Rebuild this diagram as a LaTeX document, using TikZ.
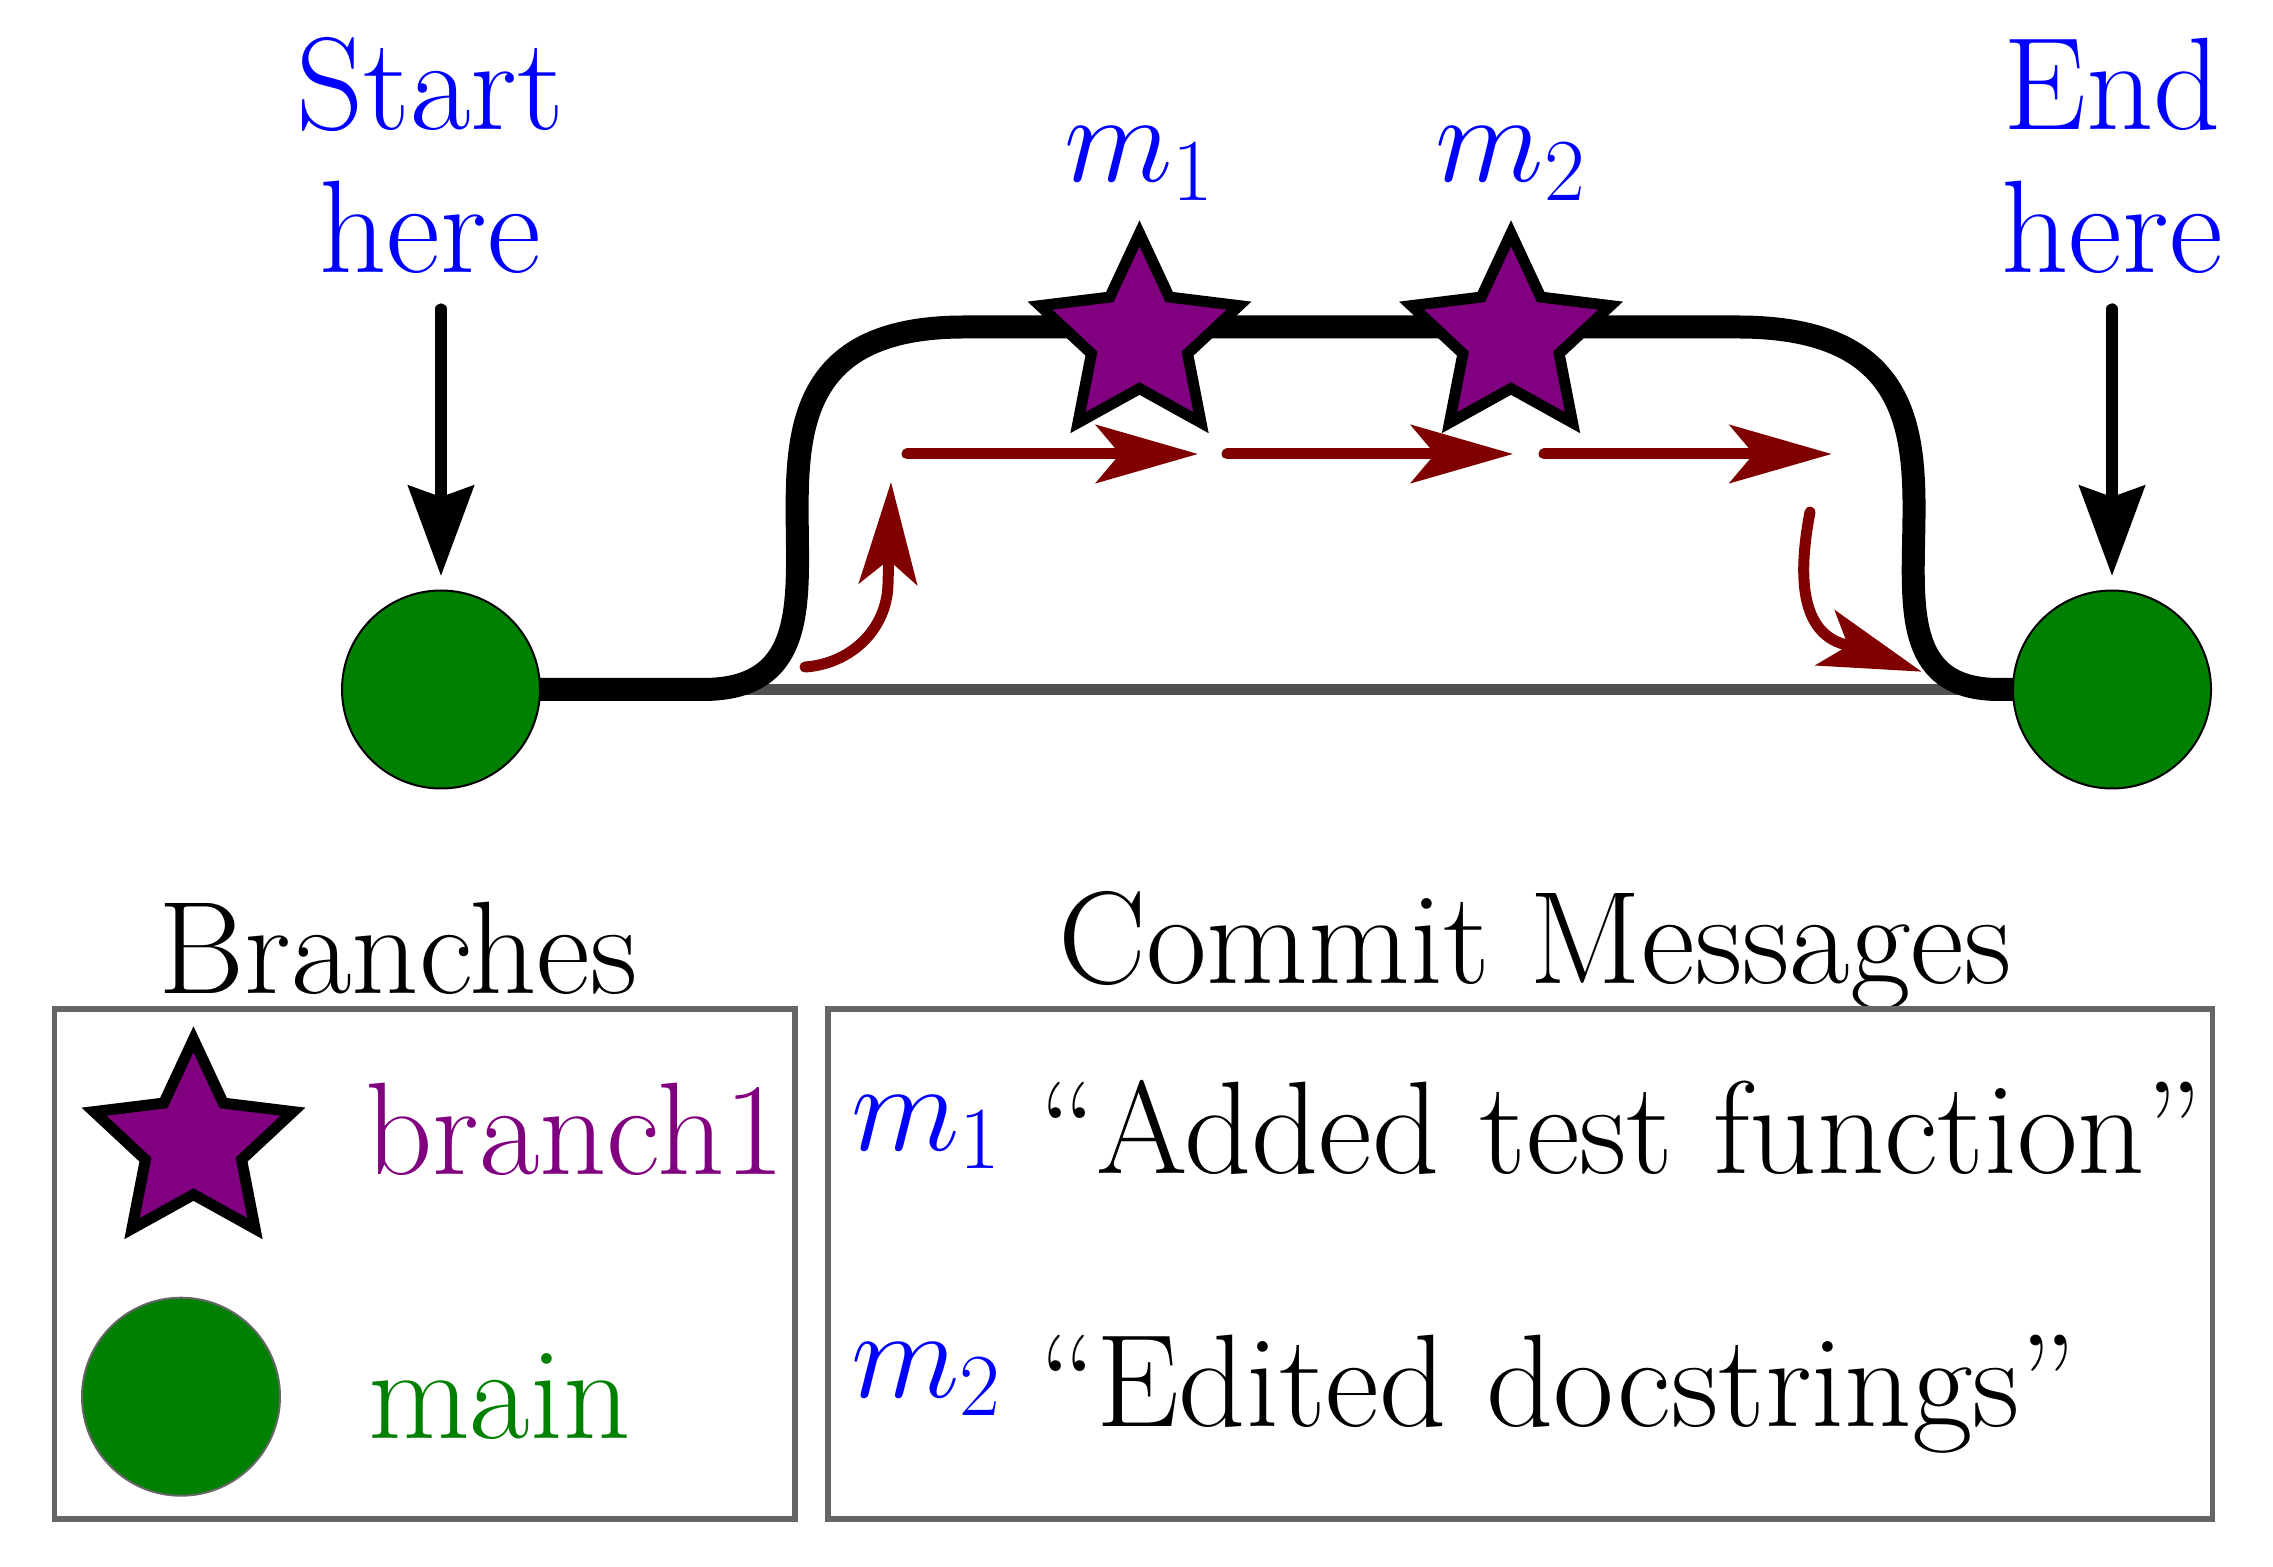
\RequirePackage{fix-cm}
\documentclass[tikz,border=0pt]{standalone}
\usetikzlibrary{arrows.meta,shapes.geometric,backgrounds}
\definecolor{myblue}{RGB}{0,0,255}
\definecolor{mypurple}{RGB}{128,0,128}
\definecolor{mygreen}{RGB}{0,128,0}
\definecolor{mymaroon}{RGB}{128,0,0}
\definecolor{mygrey}{RGB}{80,80,80}
\definecolor{boxgrey}{RGB}{102,102,102}
\begin{document}
\begin{tikzpicture}[x=0.1mm,y=-0.1mm,
  every node/.style={font=\fontsize{37.5}{40.83}\selectfont, inner sep=0pt, outer sep=0pt},
  mathlbl/.style={text=myblue, font=\fontsize{36}{40.83}\selectfont},
  commit/.style={circle, draw=black, line width=0.2mm, fill=mygreen, minimum size=19.8mm},
  branchstar/.style={star, star points=5, star point ratio=2.07, draw=black, line width=1.1mm, fill=mypurple, minimum size=20.94mm, miter limit=10},
  trunk/.style={draw=black, line width=2.3mm},
  mainline/.style={draw=mygrey, line width=1.15mm},
  walk/.style={draw=mymaroon, line width=1.1mm, line cap=round, -{Stealth[length=10.2mm,width=5.8mm,inset=2.4mm]}},
  pointer/.style={draw=black, line width=1.13mm, line cap=round, -{Stealth[length=9mm,width=6.5mm,inset=1.1mm]}},
  legbox/.style={draw=boxgrey, line width=0.57mm}
]
\useasboundingbox (0,0) rectangle (2273,1567);

% commits
\node[commit] (c1) at (441,689.5) {};
\node[commit] (c2) at (2112,689.5) {};
\node[branchstar] (s1) at (1139.5,338) {};
\node[branchstar] (s2) at (1511,338) {};

% labels
\node[text=myblue, align=center, anchor=base] (start) at (430,273) {Start\\here};
\node[text=myblue, align=center, anchor=base] (end) at (2112,273) {End\\here};
\node[mathlbl, anchor=base] (l1) at (1139.5,181.5) {$m_1$};
\node[mathlbl, anchor=base] (l2) at (1511,181.5) {$m_2$};

% branch lines
\begin{scope}[on background layer]
\draw[mainline] (c1) -- (c2);
\draw[trunk] (c1.center) -- (703,689.5)
  .. controls (915.5,689.5) and (654.5,327) .. (964,327) -- (1738,327)
  .. controls (2059.7,327) and (1798.7,689.5) .. (1999,689.5) -- (c2.center);
\end{scope}

% pointer arrows
\coordinate (sa) at (441,309);
\coordinate (ea) at (2112,309);
\draw[pointer, shorten >=1.45mm] (sa) -- (c1);
\draw[pointer, shorten >=1.45mm] (ea) -- (c2);

% walk arrows
\coordinate (b1s) at (805,667);
\coordinate (b1e) at (891,482);
\coordinate (a1s) at (907,454);
\coordinate (a1e) at (1198,454);
\coordinate (a2s) at (1227,454);
\coordinate (a2e) at (1513,454);
\coordinate (a3s) at (1544,454);
\coordinate (a3e) at (1831.7,454);
\coordinate (b2s) at (1810,512);
\coordinate (b2e) at (1921.7,671.7);
\draw[walk] (b1s) .. controls (850,664) and (887,630) .. (888,584) -- (b1e);
\draw[walk] (a1s) -- (a1e);
\draw[walk] (a2s) -- (a2e);
\draw[walk] (a3s) -- (a3e);
\draw[walk] (b2s) .. controls (1796,585) and (1805,630) .. (1840,643) -- (b2e);

% legend
\node[anchor=base] (bt) at (398,993) {Branches};
\node[anchor=base] (ct) at (1535,983) {Commit Messages};
\node[legbox, minimum width=74.05mm, minimum height=51mm] (box1) at (424.75,1264) {};
\node[legbox, minimum width=138.48mm, minimum height=51mm] (box2) at (1520.1,1264) {};
\node[branchstar] (ls) at (193.5,1144) {};
\node[commit, draw=boxgrey] (lc) at (181,1396.7) {};
\node[text=mypurple, anchor=base west] (lb) at (365,1174) {branch1};
\node[text=mygreen, anchor=base west] (lm) at (368,1438) {main};
\node[mathlbl, anchor=base west] (k1) at (851,1150) {$m_1$};
\node[anchor=base west] (t1) at (1039,1173.5) {“Added test function”};
\node[mathlbl, anchor=base west] (k2) at (851,1397) {$m_2$};
\node[anchor=base west] (t2) at (1039,1426) {“Edited docstrings”};
\end{tikzpicture}
\end{document}
